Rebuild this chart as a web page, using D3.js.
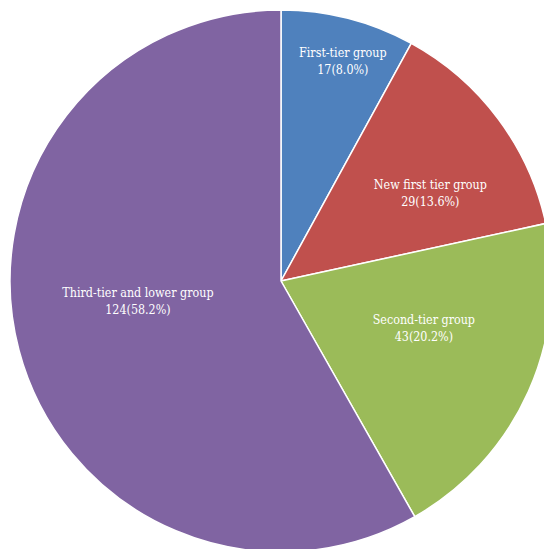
<!DOCTYPE html>
<html>
<head>
<meta charset="utf-8">
<script src="https://cdn.jsdelivr.net/npm/d3@7"></script>
<style>
  body { margin: 0; background: #fff; }
  svg { display: block; }
  text.label { font-family: "DejaVu Serif Condensed", "DejaVu Serif", serif; font-stretch: condensed; }
</style>
</head>
<body>
<div id="container"></div>
<script>
/* DATA */
const groups = ["First-tier group", "New first tier group", "Second-tier group", "Third-tier and lower group"];
const counts = [17, 29, 43, 124];
const shares = ["8.0%", "13.6%", "20.2%", "58.2%"];
const colors = ["#4f81bd", "#c0504d", "#9bbb59", "#8064a2"];

/* CONSTANTS */
const width = 544, height = 549;
const cx = 281, cy = 281, radius = 271;
// label placement (angle in rad clockwise from top, distance as fraction of radius)
const labelAngle = [0.274, 1.037, 1.889, 4.573];
const labelDist = [0.843, 0.64, 0.555, 0.533];

const data = groups.map((g, i) => ({ group: g, count: counts[i], share: shares[i], i: i }));

const svg = d3.select("#container")
  .append("svg")
  .attr("width", width)
  .attr("height", height);

const pie = d3.pie()
  .value(d => d.count)
  .sort(null);

const arc = d3.arc()
  .innerRadius(0)
  .outerRadius(radius);

const g = svg.append("g")
  .attr("transform", `translate(${cx},${cy})`);

g.selectAll("path.slice")
  .data(pie(data))
  .join("path")
  .attr("class", "slice")
  .attr("d", arc)
  .attr("fill", d => colors[d.data.i])
  .attr("stroke", "#fff")
  .attr("stroke-width", 1.5)
  .attr("stroke-linejoin", "round");

const labels = g.selectAll("text.label")
  .data(data)
  .join("text")
  .attr("class", "label")
  .attr("text-anchor", "middle")
  .attr("font-size", 12.4)
  .attr("fill", "#fff")
  .attr("transform", d => {
    const a = labelAngle[d.i], r = labelDist[d.i] * radius;
    return `translate(${r * Math.sin(a)},${-r * Math.cos(a)})`;
  });

labels.append("tspan")
  .attr("x", 0)
  .attr("y", -4)
  .text(d => d.group);

labels.append("tspan")
  .attr("x", 0)
  .attr("y", 13)
  .text(d => `${d.count}(${d.share})`);
</script>
</body>
</html>
